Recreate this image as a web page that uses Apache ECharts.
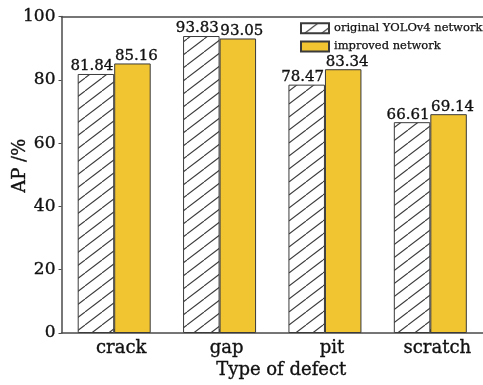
<!DOCTYPE html>
<html>
<head>
<meta charset="utf-8">
<script src="https://cdn.jsdelivr.net/npm/echarts@6/dist/echarts.min.js"></script>
<style>
  html, body { margin: 0; padding: 0; background: #ffffff; }
  #chart { width: 483px; height: 385px; }
</style>
</head>
<body>
<div id="chart"></div>
<script>
// Average precision per defect type
const categories = ['crack', 'gap', 'pit', 'scratch'];
const originalAP = [81.84, 93.83, 78.47, 66.61];
const improvedAP = [85.16, 93.05, 83.34, 69.14];
const yTicks = [0, 20, 40, 60, 80, 100];

const FONT = 'DejaVu Serif';
const INK = '#111111';
const AXIS = '#4a4a4a';
// a hairline outline on the glyphs gives the text a slightly heavier print weight
const HEAVY = { textBorderColor: INK, textBorderWidth: 0.35 };

// Diagonal "/" hatch used for the original-network bars
function hatchPattern() {
  const w = 17, h = 13;
  const c = document.createElement('canvas');
  c.width = w; c.height = h;
  const g = c.getContext('2d');
  g.fillStyle = '#ffffff';
  g.fillRect(0, 0, w, h);
  g.strokeStyle = '#3a3a3a';
  g.lineWidth = 1.1;
  for (const dx of [-w, 0, w]) {
    g.beginPath();
    g.moveTo(dx, h);
    g.lineTo(dx + w, 0);
    g.stroke();
  }
  return c;
}
const hatch = { image: hatchPattern(), repeat: 'repeat' };

const chart = echarts.init(document.getElementById('chart'), null, { renderer: 'canvas' });

chart.setOption({
  animation: false,
  backgroundColor: '#ffffff',
  textStyle: { fontFamily: FONT, color: INK },
  grid: { left: 61.5, right: 0, top: 16.5, bottom: 52, containLabel: false, outerBoundsMode: 'none' },
  legend: {
    orient: 'vertical',
    left: 300,
    top: 22,
    padding: 0,
    itemWidth: 28,
    itemHeight: 10,
    itemGap: 6,
    icon: 'rect',
    textStyle: { fontFamily: FONT, fontSize: 11.5, color: INK, textBorderColor: INK, textBorderWidth: 0.25 },
    data: ['original YOLOv4 network', 'improved network']
  },
  xAxis: [
    {
      type: 'category',
      data: categories,
      position: 'bottom',
      axisLine: { lineStyle: { color: AXIS, width: 1.5 } },
      axisTick: { show: true, inside: true, length: 4, alignWithLabel: true, lineStyle: { color: AXIS } },
      axisLabel: Object.assign({ fontFamily: FONT, fontSize: 18, color: INK, margin: 6, padding: [0, 0, 0, 14] }, HEAVY),
      name: 'Type of defect',
      nameLocation: 'middle',
      nameGap: 28,
      nameMoveOverlap: false,
      nameTextStyle: Object.assign({ fontFamily: FONT, fontSize: 18, color: INK, padding: [0, 0, 0, 18] }, HEAVY)
    },
    {
      type: 'category',
      data: categories,
      position: 'top',
      axisLine: { lineStyle: { color: AXIS, width: 1.5 } },
      axisTick: { show: false },
      axisLabel: { show: false }
    }
  ],
  yAxis: {
    type: 'value',
    min: 0,
    max: 100,
    interval: 20,
    axisLine: { show: true, lineStyle: { color: AXIS, width: 1.5 } },
    axisTick: { show: true, length: 3, lineStyle: { color: AXIS } },
    splitLine: { show: false },
    axisLabel: Object.assign({
      fontFamily: FONT, fontSize: 17, color: INK, margin: 6,
      formatter: v => (yTicks.includes(v) ? String(v) : '')
    }, HEAVY),
    name: 'AP /%',
    nameLocation: 'middle',
    nameGap: 32,
    nameMoveOverlap: false,
    nameTextStyle: Object.assign({ fontFamily: FONT, fontSize: 18, color: INK, padding: [0, 0, 0, 18] }, HEAVY)
  },
  series: [
    {
      name: 'original YOLOv4 network',
      type: 'bar',
      data: originalAP,
      barWidth: 36.5,
      barGap: '0%',
      itemStyle: { color: hatch, borderColor: '#3a3a3a', borderWidth: 1 },
      label: Object.assign({
        show: true, position: 'top', distance: 0, offset: [-4, 0],
        fontFamily: FONT, fontSize: 15, color: INK,
        formatter: p => p.value.toFixed(2)
      }, HEAVY)
    },
    {
      name: 'improved network',
      type: 'bar',
      data: improvedAP,
      barWidth: 36.5,
      itemStyle: { color: '#F1C431', borderColor: '#3a3a3a', borderWidth: 1 },
      label: Object.assign({
        show: true, position: 'top', distance: 0, offset: [4, 0],
        fontFamily: FONT, fontSize: 15, color: INK,
        formatter: p => p.value.toFixed(2)
      }, HEAVY)
    }
  ]
});
</script>
</body>
</html>
